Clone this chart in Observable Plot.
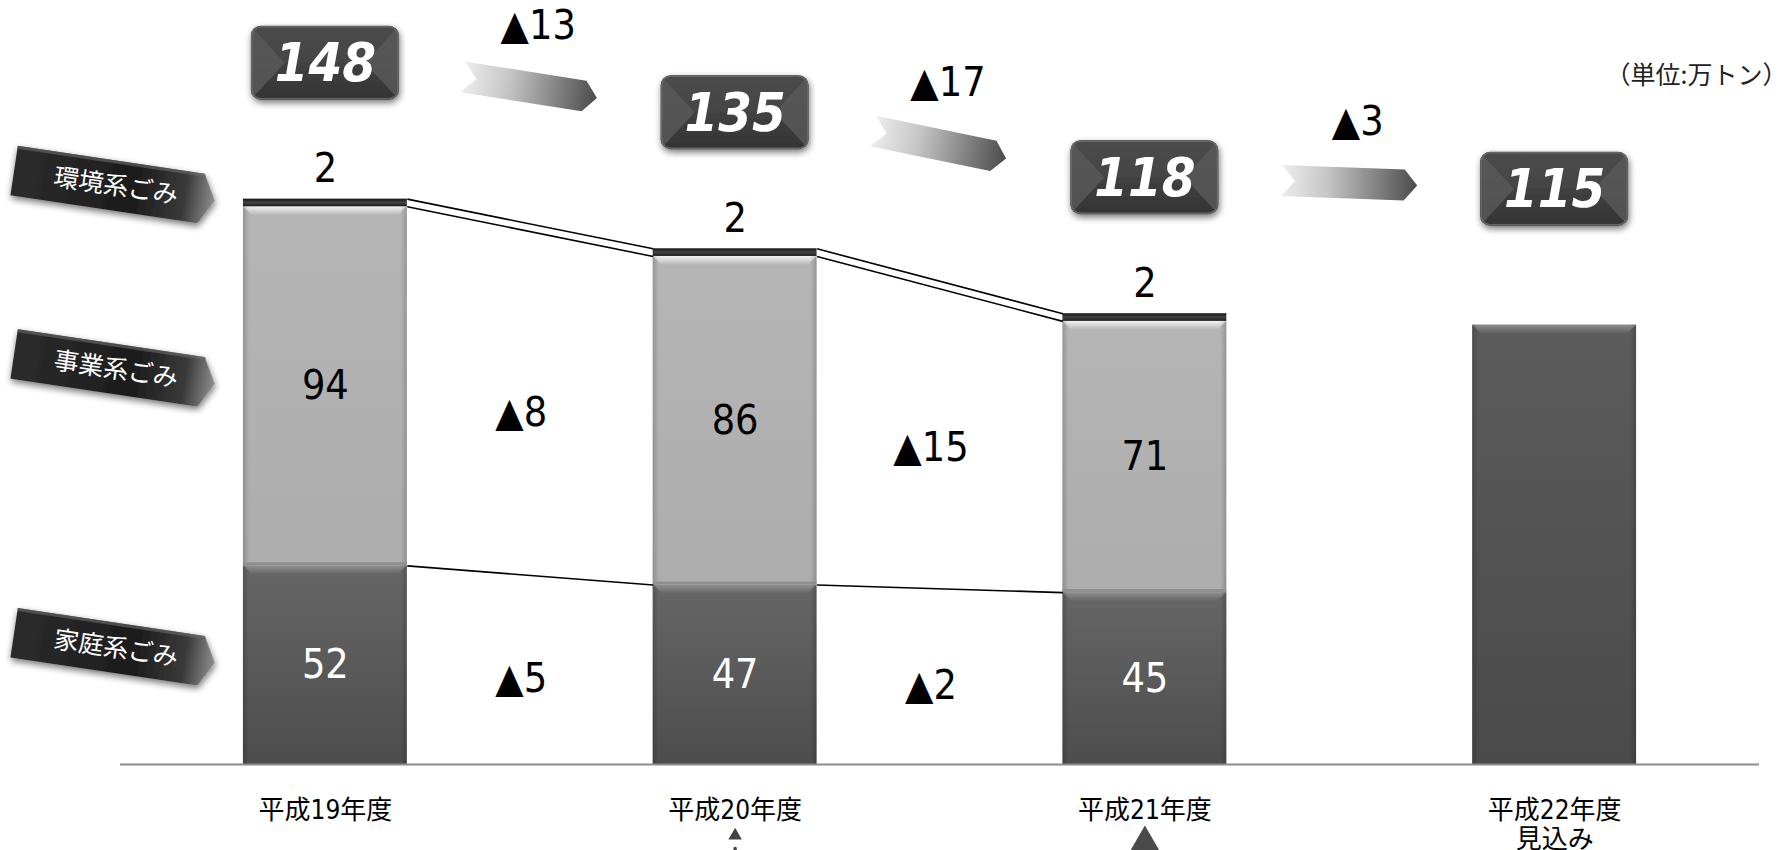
<!DOCTYPE html>
<html><head><meta charset="utf-8">
<script src="https://cdn.jsdelivr.net/npm/d3@7"></script>
<script src="https://cdn.jsdelivr.net/npm/@observablehq/plot@0.6"></script>
<style>
body{margin:0;background:#fff;}
</style></head><body><div id="chart"></div>
<script>
// ---- data ----
const years = ["平成19年度", "平成20年度", "平成21年度", "平成22年度\n見込み"];
const household = [52, 47, 45, null];
const business = [94, 86, 71, null];
const environment = [2, 2, 2, null];
const totals = [148, 135, 118, 115];
const totalChange = [-13, -17, -3];
const businessChange = [-8, -15];
const householdChange = [-5, -2];
const categoryLabels = ["環境系ごみ", "事業系ごみ", "家庭系ごみ"];
const unitLabel = "（単位:万トン）";

// ---- derived tables ----
const HALF = 0.2;          // half bar width in x units
const BOX_DY = -136;       // total box offset above bar top (px)
const NUM_FONT = "'Liberation Sans Narrow','DejaVu Sans Condensed','Noto Sans CJK JP',sans-serif";
const JP_FONT = "'Noto Sans CJK JP','Liberation Sans Narrow',sans-serif";

const segs = [];
years.forEach((yr, i) => {
  if (household[i] == null) { segs.push({i, kind: "forecast", y1: 0, y2: totals[i]}); return; }
  const h = household[i], b = business[i], e = environment[i];
  segs.push({i, kind: "household", y1: 0, y2: h, value: h});
  segs.push({i, kind: "business", y1: h, y2: h + b, value: b});
  segs.push({i, kind: "environment", y1: h + b, y2: h + b + e, value: e});
});
const of = k => segs.filter(d => d.kind === k);

const conn = [];
for (let j = 0; j < household.filter(v => v != null).length - 1; j++) {
  const base = {x1: j + HALF, x2: j + 1 - HALF};
  conn.push({...base, y1: household[j], y2: household[j + 1]});
  conn.push({...base, y1: totals[j], y2: totals[j + 1]});
  conn.push({...base, y1: totals[j] - environment[j], y2: totals[j + 1] - environment[j + 1]});
}
const tri = d => "▲" + Math.abs(d);

// ---- custom render marks ----
function defsMark() {
  const g = d3.create("svg:g");
  const defs = g.append("defs");
  function lin(id, stops, horiz) {
    const lg = defs.append("linearGradient").attr("id", id)
      .attr("x1", 0).attr("y1", 0).attr("x2", horiz ? 1 : 0).attr("y2", horiz ? 0 : 1);
    stops.forEach(([o, c, a]) => lg.append("stop").attr("offset", o).attr("stop-color", c).attr("stop-opacity", a == null ? 1 : a));
  }
  lin("gHouse", [[0, "#666666"], [1, "#4d4d4d"]]);
  lin("gBus", [[0, "#b5b5b5"], [1, "#adadad"]]);
  lin("gEnv", [[0, "#111"], [0.5, "#444"], [1, "#1a1a1a"]]);
  lin("gFore", [[0, "#5c5c5c"], [1, "#4a4a4a"]]);
  lin("gArrow", [[0, "#eeeeee"], [0.35, "#c4c4c4"], [1, "#4b4b4b"]], true);
  lin("gBox", [[0, "#4d4d4d"], [1, "#343434"]]);
  lin("gRibbon", [[0, "#2c2c2c"], [0.6, "#1c1c1c"], [0.85, "#3a3a3a"], [1, "#8f8f8f"]], true);
  lin("gBevLight", [[0, "#ffffff", 0.85], [1, "#ffffff", 0]]);
  lin("gBevDark", [[0, "#a0a0a0", 0.75], [1, "#a0a0a0", 0]]);
  lin("gEdgeL", [[0, "#000", 0.18], [1, "#000", 0]], true);
  lin("gEdgeR", [[0, "#000", 0], [1, "#000", 0.18]], true);
  const f = defs.append("filter").attr("id", "fShadow").attr("x", "-20%").attr("y", "-30%").attr("width", "140%").attr("height", "170%");
  f.append("feGaussianBlur").attr("in", "SourceAlpha").attr("stdDeviation", 3.5).attr("result", "b");
  f.append("feOffset").attr("in", "b").attr("dx", 1).attr("dy", 3).attr("result", "o");
  f.append("feComponentTransfer").attr("in", "o").attr("result", "o2")
    .append("feFuncA").attr("type", "linear").attr("slope", 0.55);
  const m = f.append("feMerge");
  m.append("feMergeNode").attr("in", "o2");
  m.append("feMergeNode").attr("in", "SourceGraphic");
  return g.node();
}

function bevelMark(index, scales) {
  const g = d3.create("svg:g");
  segs.filter(d => d.kind !== "environment").forEach(d => {
    const x0 = scales.x(d.i - HALF), x1 = scales.x(d.i + HALF);
    const yt = scales.y(d.y2), yb = scales.y(d.y1);
    const b = 9;
    const fill = d.kind === "business" ? "url(#gBevLight)" : "url(#gBevDark)";
    g.append("path").attr("d", `M${x0},${yt}L${x1},${yt}L${x1 - b},${yt + b}L${x0 + b},${yt + b}Z`).attr("fill", fill);
    g.append("rect").attr("x", x0).attr("y", yt).attr("width", 6).attr("height", yb - yt).attr("fill", "url(#gEdgeL)");
    g.append("rect").attr("x", x1 - 6).attr("y", yt).attr("width", 6).attr("height", yb - yt).attr("fill", "url(#gEdgeR)");
  });
  return g.node();
}

function boxesMark(index, scales) {
  const g = d3.create("svg:g");
  const defs = g.append("defs");
  const W = 148, H = 74;
  totals.forEach((t, i) => {
    const cx = scales.x(i), cy = scales.y(t) + BOX_DY;
    const x0 = cx - W / 2, y0 = cy - H / 2;
    defs.append("clipPath").attr("id", "clipBox" + i)
      .append("rect").attr("x", x0).attr("y", y0).attr("width", W).attr("height", H).attr("rx", 10);
    const bg = g.append("g").attr("filter", "url(#fShadow)");
    bg.append("rect").attr("x", x0).attr("y", y0).attr("width", W).attr("height", H).attr("rx", 10).attr("fill", "url(#gBox)");
    const inner = g.append("g").attr("clip-path", `url(#clipBox${i})`);
    inner.append("path").attr("d", `M${x0},${y0}L${x0 + 34},${cy}L${x0},${y0 + H}Z`).attr("fill", "#5a5a5a").attr("opacity", 0.8);
    inner.append("path").attr("d", `M${x0 + W},${y0}L${x0 + W - 34},${cy}L${x0 + W},${y0 + H}Z`).attr("fill", "#5a5a5a").attr("opacity", 0.8);
    inner.append("path").attr("d", `M${x0},${y0}L${x0 + W},${y0}L${x0 + W - 34},${cy}L${x0 + 34},${cy}Z`).attr("fill", "#4a4a4a").attr("opacity", 0.5);
    inner.append("rect").attr("x", x0 + 1).attr("y", y0 + 1).attr("width", W - 2).attr("height", H - 2).attr("rx", 9)
      .attr("fill", "none").attr("stroke", "#666").attr("stroke-width", 1.5);
  });
  return g.node();
}

function arrowsMark(index, scales) {
  const g = d3.create("svg:g");
  for (let j = 0; j < totals.length - 1; j++) {
    const xa = scales.x(j), ya = scales.y(totals[j]) + BOX_DY;
    const xb = scales.x(j + 1), yb = scales.y(totals[j + 1]) + BOX_DY;
    const mx = (xa + xb) / 2, my = (ya + yb) / 2;
    const ang = Math.atan2(yb - ya, xb - xa) * 180 / Math.PI * 1.3;
    g.append("path").attr("d", "M-68,-15.5L55,-15.5L68,0L55,15.5L-68,15.5L-54,0Z")
      .attr("transform", `translate(${mx},${my}) rotate(${ang})`)
      .attr("fill", "url(#gArrow)");
  }
  return g.node();
}

function ribbonsMark(index, scales) {
  const g = d3.create("svg:g");
  const b1 = segs.filter(d => d.i === 0);
  const mids = ["environment", "business", "household"].map(k => {
    const s = b1.find(d => d.kind === k); return (s.y1 + s.y2) / 2;
  });
  categoryLabels.forEach((lab, k) => {
    const cx = scales.x(-0.5) - 6, cy = scales.y(mids[k]) - 17;
    const rg = g.append("g").attr("transform", `translate(${cx},${cy}) rotate(8.5)`);
    rg.append("path").attr("d", "M-101,-25H88L102,0L88,25H-101Z").attr("fill", "url(#gRibbon)")
      .attr("filter", "url(#fShadow)");
    rg.append("path").attr("d", "M-101,-25H88L90,-22H-101Z").attr("fill", "#6a6a6a").attr("opacity", 0.6);
    rg.append("text").attr("x", 2).attr("y", 0).attr("dy", "0.35em").attr("text-anchor", "middle")
      .attr("fill", "#fff").attr("font-size", 25).attr("font-family", JP_FONT).text(lab);
  });
  return g.node();
}

// ---- plot ----
const chart = Plot.plot({
  width: 1789, height: 850,
  marginLeft: 120, marginRight: 30, marginTop: 0, marginBottom: 86,
  x: {domain: [-0.5, 3.5], axis: null},
  y: {domain: [0, 200], axis: null},
  style: {fontFamily: NUM_FONT, background: "#fff", overflow: "visible"},
  marks: [
    defsMark,
    // bars
    Plot.rect(of("household"), {x1: d => d.i - HALF, x2: d => d.i + HALF, y1: "y1", y2: "y2", fill: "url(#gHouse)"}),
    Plot.rect(of("business"), {x1: d => d.i - HALF, x2: d => d.i + HALF, y1: "y1", y2: "y2", fill: "url(#gBus)"}),
    Plot.rect(of("forecast"), {x1: d => d.i - HALF, x2: d => d.i + HALF, y1: "y1", y2: "y2", fill: "url(#gFore)"}),
    bevelMark,
    Plot.ruleY(of("business"), {x1: d => d.i - HALF, x2: d => d.i + HALF, y: "y1", dy: -2, stroke: "#8f8f8f", strokeWidth: 3}),
    Plot.rect(of("environment"), {x1: d => d.i - HALF, x2: d => d.i + HALF, y1: "y1", y2: "y2", fill: "url(#gEnv)"}),
    // axis line
    Plot.ruleY([0], {stroke: "#8c8c8c", strokeWidth: 2}),
    // connectors
    Plot.link(conn, {x1: "x1", y1: "y1", x2: "x2", y2: "y2", stroke: "#000", strokeWidth: 1.6}),
    // segment labels
    Plot.text(of("household"), {x: "i", y: d => (d.y1 + d.y2) / 2, text: d => String(d.value), fill: "#fff", fontSize: 41}),
    Plot.text(of("business"), {x: "i", y: d => (d.y1 + d.y2) / 2, text: d => String(d.value), fill: "#000", fontSize: 41}),
    Plot.text(of("environment"), {x: "i", y: "y2", dy: -30, text: d => String(d.value), fill: "#000", fontSize: 41}),
    // change labels between bars
    Plot.text(businessChange, {x: (d, j) => j + 0.5, y: (d, j) => (household[j] + business[j] / 2 + household[j + 1] + business[j + 1] / 2) / 2, dx: -9, dy: 9, text: tri, fill: "#000", fontSize: 41}),
    Plot.text(householdChange, {x: (d, j) => j + 0.5, y: (d, j) => (household[j] / 2 + household[j + 1] / 2) / 2, dx: -9, dy: 9, text: tri, fill: "#000", fontSize: 41}),
    // totals boxes and arrows
    arrowsMark,
    boxesMark,
    Plot.text(totals, {x: (d, i) => i, y: d => d, dy: BOX_DY + 1, text: d => String(d), fill: "#fff", fontSize: 54, fontWeight: "bold", fontStyle: "italic"}),
    Plot.text(totalChange, {x: (d, j) => j + 0.5, y: (d, j) => (totals[j] + totals[j + 1]) / 2, dy: BOX_DY - 62, dx: 8, text: tri, fill: "#000", fontSize: 41}),
    // category ribbons
    ribbonsMark,
    // x labels
    Plot.text(years, {x: (d, i) => i, y: 0, dy: 35, lineAnchor: "top", lineHeight: 1.08, text: d => d, fill: "#000", fontSize: 26, fontFamily: NUM_FONT}),
    // small marks below labels
    Plot.dot([1], {x: d => d, y: 0, dy: 71, symbol: "triangle", r: 5, fill: "#444"}),
    Plot.dot([1], {x: d => d, y: 0, dy: 84, r: 1.8, fill: "#444"}),
    Plot.dot([2], {x: d => d, y: 0, dy: 78, symbol: "triangle", r: 11, fill: "#4a4a4a"}),
    // unit
    Plot.text([unitLabel], {frameAnchor: "top-right", dx: 28, dy: 66, textAnchor: "end", text: d => d, fill: "#222", fontSize: 25, fontFamily: JP_FONT})
  ]
});
document.getElementById("chart").appendChild(chart);
</script>
</body></html>
